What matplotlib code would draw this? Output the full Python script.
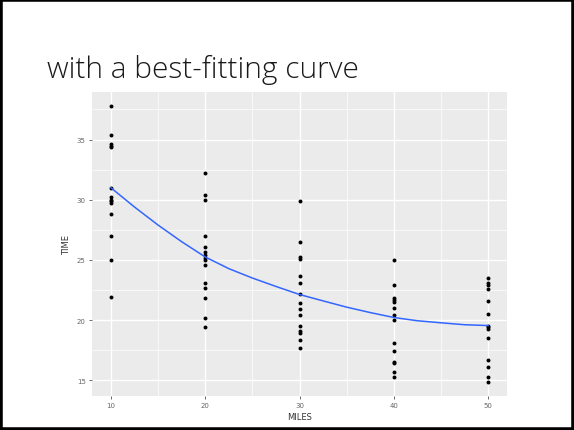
import numpy as np
import matplotlib
matplotlib.use("Agg")
import matplotlib.pyplot as plt
from matplotlib.patches import Rectangle

# --- data ---
miles_levels = [10, 20, 30, 40, 50]
time_10 = [37.8, 35.4, 34.6, 34.45, 34.35, 31.0, 30.2, 30.0, 29.9, 29.7, 28.8, 27.0, 25.0, 21.9]
time_20 = [32.2, 30.4, 30.0, 27.0, 26.1, 25.7, 25.4, 25.2, 25.0, 24.6, 23.1, 22.7, 21.8, 20.2, 19.4]
time_30 = [29.9, 26.45, 25.25, 25.1, 23.7, 23.1, 22.15, 21.4, 20.9, 20.4, 19.5, 19.1, 18.9, 18.35, 17.65]
time_40 = [25.0, 22.95, 21.8, 21.65, 21.5, 21.0, 20.45, 20.0, 18.1, 17.45, 16.55, 16.4, 15.7, 15.25]
time_50 = [23.5, 23.1, 22.95, 22.55, 21.55, 20.55, 19.55, 19.4, 19.25, 18.55, 16.7, 16.1, 15.25, 14.85]

# smoothed curve (blue line), read at every 2.5 miles
curve_miles = [10, 12.5, 15, 17.5, 20, 22.5, 25, 27.5, 30, 32.5, 35, 37.5, 40, 42.5, 45, 47.5, 50]
curve_time = [31.0, 29.4, 27.9, 26.52, 25.25, 24.28, 23.5, 22.8, 22.13, 21.6, 21.08,
              20.63, 20.22, 19.95, 19.78, 19.62, 19.55]

x_ticks = [10, 20, 30, 40, 50]
y_ticks = [15, 20, 25, 30, 35]

cols = [time_10, time_20, time_30, time_40, time_50]
miles = np.concatenate([[m] * len(c) for m, c in zip(miles_levels, cols)]).astype(float)
times = np.concatenate(cols)

W, H = 574, 431
fig = plt.figure(figsize=(W / 100, H / 100), dpi=100)

# slide border
fig.patches.append(Rectangle((0, 0), 1, 1, transform=fig.transFigure,
                             fill=False, edgecolor="black", linewidth=4))

fig.text(47 / W, 1 - 78 / H, "with a best-fitting curve", fontsize=21.5,
         family="Open Sans", weight="light", color="#1a1a1a", va="baseline")

ax = fig.add_axes([92 / W, 1 - 397 / H, (507 - 92) / W, (397 - 93) / H])
ax.set_facecolor("#EBEBEB")
for s in ax.spines.values():
    s.set_visible(False)

ax.set_xlim(8, 52)
ax.set_ylim(13.7, 38.95)
ax.set_xticks(x_ticks)
ax.set_yticks(y_ticks)
ax.set_xticks([15, 25, 35, 45], minor=True)
ax.set_yticks([17.5, 22.5, 27.5, 32.5, 37.5], minor=True)
ax.grid(which="major", color="white", linewidth=1.0)
ax.grid(which="minor", color="white", linewidth=0.5)
ax.set_axisbelow(True)
ax.tick_params(which="major", length=2.5, width=0.6, color="#555555",
               labelsize=5, labelcolor="#666666", pad=2)
ax.tick_params(which="minor", length=0)

ax.scatter(miles, times, s=8, color="black", zorder=3, linewidths=0)
ax.plot(curve_miles, curve_time, color="#3366FF", linewidth=1.1, zorder=4)

ax.set_xlabel("MILES", fontsize=6, color="#333333", labelpad=3)
ax.set_ylabel("TIME", fontsize=6, color="#333333", labelpad=4)

fig.savefig("out.png", dpi=100)
